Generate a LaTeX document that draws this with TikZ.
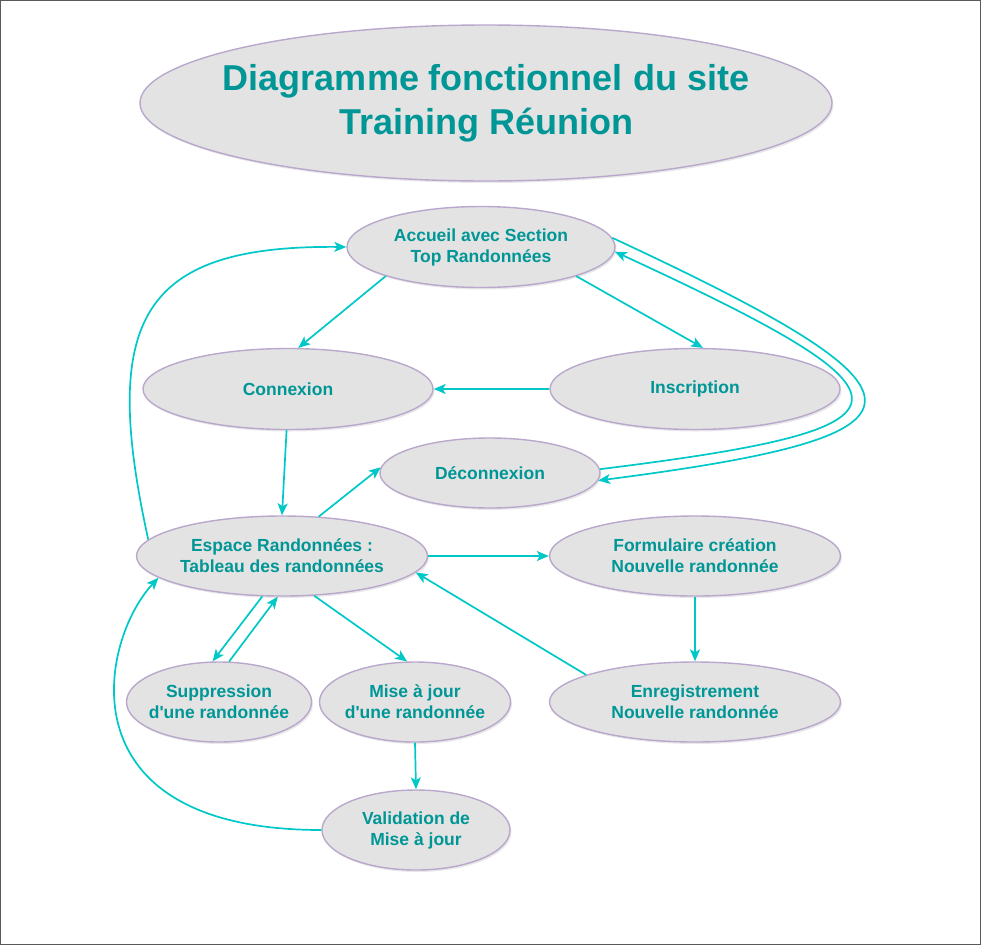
\documentclass[tikz,border=0pt]{standalone}
\usepackage{fontspec}
\setmainfont{Liberation Sans}
\usetikzlibrary{arrows.meta,shapes.geometric,shadows}
\definecolor{fleche}{RGB}{0,200,200}
\definecolor{texte}{RGB}{0,150,150}
\definecolor{fond}{RGB}{227,227,227}
\definecolor{bord}{RGB}{185,168,204}
\begin{document}
\begin{tikzpicture}[x=1pt,y=-1pt,>={Stealth[length=12pt,width=10pt,inset=3pt]},
  etat/.style={ellipse,draw=bord,line width=1.4pt,fill=fond,inner xsep=-10pt,inner ysep=0pt,
    text=texte,align=center,font=\fontsize{17.5}{21}\selectfont\bfseries,
    drop shadow={opacity=0.18,shadow xshift=1.5pt,shadow yshift=-2pt}},
  lien/.style={->,draw=fleche,line width=1.7pt}]
\useasboundingbox (0,0) rectangle (981,945);
\draw[gray!70!black,line width=1pt] (0.5,0.5) rectangle (980.5,944.5);
\node[etat,inner xsep=-20pt,minimum width=692pt,minimum height=156pt,font=\fontsize{36}{44}\selectfont\bfseries] (titre) at (486,103) {Diagramme fonctionnel du site\\Training Réunion};
\node[etat,minimum width=268pt,minimum height=81pt] (acc) at (481,247) {Accueil avec Section\\Top Randonnées};
\node[etat,minimum width=290pt,minimum height=81pt] (con) at (288,389) {Connexion};
\node[etat,minimum width=290pt,minimum height=81pt] (ins) at (695,389) {Inscription};
\node[etat,minimum width=220pt,minimum height=70pt] (dec) at (490,473) {Déconnexion};
\node[etat,minimum width=291pt,minimum height=80pt] (esp) at (282,556) {Espace Randonnées :\\Tableau des randonnées};
\node[etat,minimum width=291pt,minimum height=80pt] (frm) at (695,556) {Formulaire création\\Nouvelle randonnée};
\node[etat,minimum width=185pt,minimum height=80pt] (sup) at (219,702) {Suppression\\d\textquotesingle une randonnée};
\node[etat,minimum width=191pt,minimum height=80pt] (maj) at (415,702) {Mise à jour\\d\textquotesingle une randonnée};
\node[etat,minimum width=291pt,minimum height=80pt] (enr) at (695,702) {Enregistrement\\Nouvelle randonnée};
\node[etat,minimum width=188pt,minimum height=80pt] (val) at (416,830) {Validation de\\Mise à jour};
% accueil
\draw[lien] (acc.197) -- (con.76);
\draw[lien] (acc.343) -- (ins.79);
\draw[lien] (ins.west) -- (con.east);
\draw[lien] (con.268) -- (esp.north);
\draw[lien] (esp.47) -- (dec.177);
\draw[lien] (acc.4) .. controls (950,395) and (950,435) .. (dec.-4);
\draw[lien] (dec.2) .. controls (932,428) and (932,398) .. (acc.-2);
\draw[lien] (esp.173) .. controls (100,320) and (140,245) .. (acc.west);
% espace randonnees
\draw[lien] (esp.east) -- (frm.west);
\draw[lien] (frm.south) -- (enr.north);
\draw[lien] (enr.166) -- (esp.-7);
\draw[lien] (esp.244) -- (sup.99);
\draw[lien] (sup.76) -- (esp.264);
\draw[lien] (esp.309) -- (maj.101);
\draw[lien] (maj.south) -- (val.north);
\draw[lien] (val.west) .. controls (60,830) and (100,640) .. (esp.190);
\end{tikzpicture}
\end{document}
